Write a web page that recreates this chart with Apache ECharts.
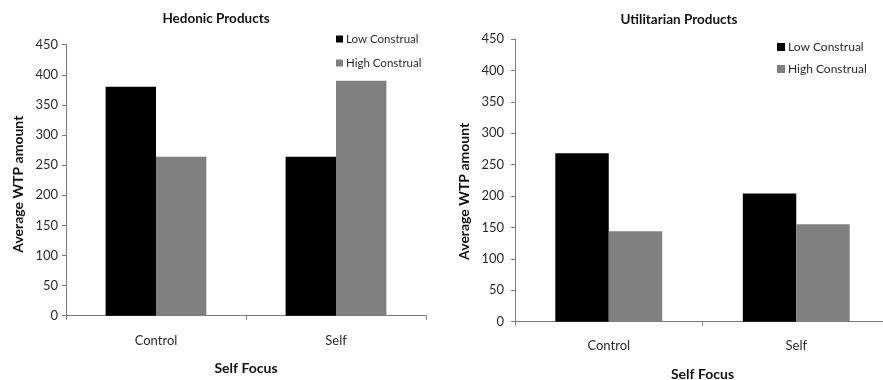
<!DOCTYPE html>
<html>
<head>
<meta charset="utf-8">
<script src="https://cdn.jsdelivr.net/npm/echarts@6/dist/echarts.min.js"></script>
<style>
  html, body { margin: 0; padding: 0; background: #fff; }
  #chart { width: 883px; height: 380px; }
</style>
</head>
<body>
<div id="chart"></div>
<script>
// Average willingness-to-pay by self-focus condition and construal level
var categories = ['Control', 'Self'];
var seriesNames = ['Low Construal', 'High Construal'];
var hedonicLow = [380, 264];
var hedonicHigh = [264, 390];
var utilitarianLow = [268, 204];
var utilitarianHigh = [144, 155];
var panelTitles = ['Hedonic Products', 'Utilitarian Products'];
var yAxisTitle = 'Average WTP amount';
var xAxisTitle = 'Self Focus';

var FONT = 'Lato';
var LOW_COLOR = '#000000';
var HIGH_COLOR = '#808080';
var AXIS_COLOR = '#7a7a7a';
var LABEL_COLOR = '#2a2a2a';

function valueAxis(gridIndex, labelMargin, nameGap, nameShift) {
  return {
    type: 'value', gridIndex: gridIndex, min: 0, max: 450, interval: 50,
    name: yAxisTitle, nameLocation: 'middle', nameGap: nameGap, nameRotate: 90,
    nameTextStyle: { fontFamily: FONT, fontWeight: 'bold', fontSize: 14, color: '#111',
      padding: [0, nameShift, 0, 0] },
    axisLine: { show: true, lineStyle: { color: AXIS_COLOR, width: 1 } },
    axisTick: { show: true, length: 4, lineStyle: { color: AXIS_COLOR } },
    splitLine: { show: false },
    axisLabel: { margin: labelMargin, fontFamily: FONT, fontSize: 13, color: LABEL_COLOR }
  };
}

function categoryAxis(gridIndex, labelMargin, nameGap) {
  return {
    type: 'category', gridIndex: gridIndex, data: categories,
    name: xAxisTitle, nameLocation: 'middle', nameGap: nameGap,
    nameTextStyle: { fontFamily: FONT, fontWeight: 'bold', fontSize: 14, color: '#111' },
    axisLine: { show: true, lineStyle: { color: AXIS_COLOR, width: 1 } },
    axisTick: { show: true, length: 4, lineStyle: { color: AXIS_COLOR } },
    axisLabel: { margin: labelMargin, fontFamily: FONT, fontSize: 13, color: LABEL_COLOR }
  };
}

function legendBlock(left, top, size, gap, fontSize) {
  return {
    orient: 'vertical', left: left, top: top, data: seriesNames, padding: 0,
    icon: 'rect', itemWidth: size, itemHeight: size, itemGap: gap,
    textStyle: { fontFamily: FONT, fontSize: fontSize, color: '#2a2a2a', lineHeight: 14,
      padding: [0, 0, 0, -2] }
  };
}

function barSeries(name, data, color, axisIndex, catGap) {
  return {
    type: 'bar', name: name, data: data,
    xAxisIndex: axisIndex, yAxisIndex: axisIndex,
    barGap: 0, barCategoryGap: catGap,
    itemStyle: { color: color },
    animation: false
  };
}

var chart = echarts.init(document.getElementById('chart'), null, { renderer: 'canvas' });
chart.setOption({
  backgroundColor: '#ffffff',
  animation: false,
  title: [
    { text: panelTitles[0], left: 211, top: 7, textAlign: 'center',
      textStyle: { fontFamily: FONT, fontWeight: 'bold', fontSize: 13.5, color: '#111' } },
    { text: panelTitles[1], left: 674, top: 8, textAlign: 'center',
      textStyle: { fontFamily: FONT, fontWeight: 'bold', fontSize: 13.5, color: '#111' } }
  ],
  legend: [
    legendBlock(336, 32, 7, 10, 11.5),
    legendBlock(777, 40, 8, 8, 12)
  ],
  grid: [
    { left: 66, top: 44.7, width: 360, height: 271, outerBoundsMode: 'none', containLabel: false },
    { left: 515, top: 39, width: 375, height: 282.7, outerBoundsMode: 'none', containLabel: false }
  ],
  xAxis: [categoryAxis(0, 19, 46), categoryAxis(1, 18, 45.5)],
  yAxis: [valueAxis(0, 8, 41, 8), valueAxis(1, 11, 44, 22)],
  series: [
    barSeries(seriesNames[0], hedonicLow, LOW_COLOR, 0, '44%'),
    barSeries(seriesNames[1], hedonicHigh, HIGH_COLOR, 0, '44%'),
    barSeries(seriesNames[0], utilitarianLow, LOW_COLOR, 1, '43%'),
    barSeries(seriesNames[1], utilitarianHigh, HIGH_COLOR, 1, '43%')
  ]
});
</script>
</body>
</html>
